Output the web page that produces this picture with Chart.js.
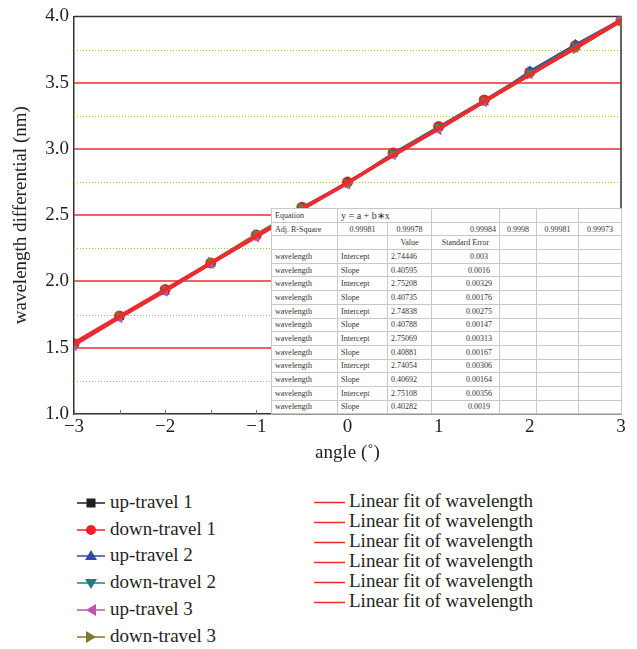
<!DOCTYPE html>
<html>
<head>
<meta charset="utf-8">
<script src="https://cdn.jsdelivr.net/npm/chart.js@4"></script>
<style>
    body { margin: 0; background: #fff; font-family: 'Liberation Serif', serif; color: #231f20; }
    #wrap { position: relative; width: 637px; height: 649px; }
    #chart { position: absolute; left: 0; top: 0; }
    #fit-table {
        position: absolute; left: 271px; top: 208px; width: 350px; height: 206px;
        border-collapse: collapse; background: #fff; font-size: 8px; color: #333;
        table-layout: fixed; border: 1.5px solid #333;
    }
    #fit-table td { border: 1px solid #c8c8c8; padding: 0 3px; height: 12.7px; line-height: 11px; white-space: nowrap; overflow: hidden; }
    #fit-table td.c { text-align: center; }
    #fit-table td.r { text-align: right; }
    .legend { position: absolute; font-size: 19px; line-height: 20px; font-family: 'Liberation Serif', serif; }
    .legend .item { position: absolute; white-space: nowrap; }
    .legend svg { position: absolute; top: 0; }
    .legend span { position: absolute; top: -1px; }
</style>
</head>
<body>
<div id="wrap">
    <canvas id="chart" width="637" height="470"></canvas>
    <table id="fit-table"></table>
    <div class="legend" id="legend-left" style="left:0; top:0;"></div>
    <div class="legend" id="legend-right" style="left:0; top:0;"></div>
</div>
<script>
// angle (deg)
const angles = [-3, -2.5, -2, -1.5, -1, -0.5, 0, 0.5, 1, 1.5, 2, 2.5, 3];

const seriesNames = ['up-travel 1', 'down-travel 1', 'up-travel 2', 'down-travel 2', 'up-travel 3', 'down-travel 3'];
const upTravel1   = [1.52, 1.73, 1.93, 2.13, 2.34, 2.54, 2.74, 2.96, 3.16, 3.36, 3.57, 3.77, 3.97];
const downTravel1 = [1.53, 1.74, 1.94, 2.14, 2.35, 2.56, 2.75, 2.97, 3.17, 3.37, 3.58, 3.78, 3.97];
const upTravel2   = [1.53, 1.73, 1.92, 2.13, 2.35, 2.56, 2.75, 2.96, 3.16, 3.35, 3.59, 3.79, 3.98];
const downTravel2 = [1.52, 1.74, 1.93, 2.14, 2.35, 2.55, 2.74, 2.97, 3.17, 3.37, 3.58, 3.78, 3.98];
const upTravel3   = [1.51, 1.72, 1.92, 2.13, 2.33, 2.54, 2.73, 2.95, 3.14, 3.35, 3.56, 3.76, 3.98];
const downTravel3 = [1.53, 1.74, 1.94, 2.15, 2.36, 2.56, 2.74, 2.96, 3.16, 3.36, 3.56, 3.75, 3.96];
const seriesValues = [upTravel1, downTravel1, upTravel2, downTravel2, upTravel3, downTravel3];

// linear fit results (table)
const adjRSquare = ['0.99981', '0.99978', '0.99984', '0.9998', '0.99981', '0.99973'];
const fitIntercepts = [2.74446, 2.75208, 2.74838, 2.75069, 2.74054, 2.75108];
const fitInterceptErr = ['0.003', '0.00329', '0.00275', '0.00313', '0.00306', '0.00356'];
const fitSlopes = [0.40595, 0.40735, 0.40788, 0.40881, 0.40692, 0.40282];
const fitSlopeErr = ['0.0016', '0.00176', '0.00147', '0.00167', '0.00164', '0.0019'];
const fitLabel = 'Linear fit of wavelength';

const yTicks = [1.0, 1.5, 2.0, 2.5, 3.0, 3.5, 4.0];
const yMinorGrid = [1.25, 1.75, 2.25, 2.75, 3.25, 3.75];
const xTicks = [-3, -2, -1, 0, 1, 2, 3];
const xMinorTicks = [-2.5, -1.5, -0.5, 0.5, 1.5, 2.5];

const colors = ['#231f20', '#ec2227', '#2f4c9e', '#1c7f7b', '#c055b1', '#7d7b2b'];
const pointStyles = ['rect', 'circle', 'triangle', 'triangle', 'triangle', 'triangle'];
const pointRotations = [0, 0, 0, 180, 270, 90];
const fitColor = '#ef2b2d';
const FONT = "'Liberation Serif', serif";

const datasets = [];
seriesValues.forEach((vals, i) => {
    datasets.push({
        label: seriesNames[i],
        data: angles.map((a, j) => ({ x: a, y: vals[j] })),
        showLine: true,
        borderColor: colors[i],
        backgroundColor: colors[i],
        borderWidth: 1.5,
        pointStyle: pointStyles[i],
        rotation: pointRotations[i],
        pointRadius: pointStyles[i] === 'rect' ? 4.5 : 5.5,
        pointBorderWidth: 0,
        order: 7 - i
    });
});
fitIntercepts.forEach((a, i) => {
    const b = fitSlopes[i];
    datasets.push({
        label: fitLabel,
        data: [{ x: angles[0], y: a + b * angles[0] }, { x: angles[angles.length - 1], y: a + b * angles[angles.length - 1] }],
        showLine: true,
        borderColor: fitColor,
        borderWidth: 2,
        pointRadius: 0,
        order: 0
    });
});

const framePlugin = {
    id: 'frame',
    beforeDatasetsDraw(chart) {
        const { ctx, chartArea: ca, scales } = chart;
        ctx.save();
        // minor dotted grid
        ctx.strokeStyle = '#8cc63f';
        ctx.lineWidth = 1;
        ctx.setLineDash([1, 2]);
        yMinorGrid.forEach(v => {
            const y = Math.round(scales.y.getPixelForValue(v)) + 0.5;
            ctx.beginPath();
            ctx.moveTo(ca.left, y);
            ctx.lineTo(ca.right, y);
            ctx.stroke();
        });
        ctx.setLineDash([]);
        // major red grid
        ctx.strokeStyle = fitColor;
        ctx.lineWidth = 1.5;
        yTicks.slice(1, -1).forEach(v => {
            const y = Math.round(scales.y.getPixelForValue(v));
            ctx.beginPath();
            ctx.moveTo(ca.left, y);
            ctx.lineTo(ca.right, y);
            ctx.stroke();
        });
        // minor x ticks
        ctx.strokeStyle = '#777';
        ctx.lineWidth = 1;
        xMinorTicks.concat(xTicks).forEach(v => {
            const x = Math.round(scales.x.getPixelForValue(v)) + 0.5;
            ctx.beginPath();
            ctx.moveTo(x, ca.bottom);
            ctx.lineTo(x, ca.bottom - 4);
            ctx.stroke();
        });
        // frame top and right
        ctx.strokeStyle = '#333';
        ctx.lineWidth = 1.5;
        ctx.beginPath();
        ctx.moveTo(ca.left, ca.top);
        ctx.lineTo(ca.right, ca.top);
        ctx.lineTo(ca.right, ca.bottom);
        ctx.stroke();
        ctx.restore();
    }
};

new Chart(document.getElementById('chart'), {
    type: 'scatter',
    data: { datasets: datasets },
    options: {
        responsive: false,
        animation: false,
        layout: { padding: { top: 13, right: 16, left: 0, bottom: 0 } },
        plugins: { legend: { display: false }, tooltip: { enabled: false } },
        scales: {
            x: {
                type: 'linear',
                min: -3,
                max: 3,
                afterFit: s => { s.height = 56; },
                afterBuildTicks: s => { s.ticks = xTicks.map(v => ({ value: v })); },
                ticks: {
                    color: '#231f20',
                    font: { family: FONT, size: 19 },
                    padding: 2,
                    maxRotation: 0,
                    callback: v => (v < 0 ? '\u2212' + Math.abs(v) : String(v))
                },
                grid: { display: false, drawTicks: false },
                border: { display: true, color: '#333', width: 1.5 },
                title: { display: true, text: 'angle (˚)', color: '#231f20', font: { family: FONT, size: 19 }, padding: { top: 0, bottom: 6 } }
            },
            y: {
                min: 1,
                max: 4,
                afterFit: s => { s.width = 74; },
                afterBuildTicks: s => { s.ticks = yTicks.map(v => ({ value: v })); },
                ticks: {
                    color: '#231f20',
                    font: { family: FONT, size: 19 },
                    padding: 5,
                    callback: v => Number(v).toFixed(1)
                },
                grid: { display: false, drawTicks: false },
                border: { display: true, color: '#333', width: 1.5 },
                title: { display: true, text: 'wavelength differential (nm)', color: '#231f20', font: { family: FONT, size: 19 }, padding: { top: 10, bottom: 0 } }
            }
        }
    },
    plugins: [framePlugin]
});

// fit table
(function buildTable() {
    const t = document.getElementById('fit-table');
    const widths = [66, 50, 44, 68, 37, 42, 43];
    let html = '<colgroup>' + widths.map(w => '<col style="width:' + w + 'px">').join('') + '</colgroup>';
    html += '<tr><td>Equation</td><td colspan="2" style="font-size:10px">y = a + b\u2217x</td><td></td><td></td><td></td><td></td></tr>';
    html += '<tr><td>Adj. R-Square</td>' + adjRSquare.map((v, i) => '<td class="' + (i === 2 ? 'r' : 'c') + '">' + v + '</td>').join('') + '</tr>';
    html += '<tr><td></td><td></td><td class="c">Value</td><td class="c">Standard Error</td><td></td><td></td><td></td></tr>';
    fitIntercepts.forEach((a, i) => {
        html += '<tr><td>wavelength</td><td>Intercept</td><td>' + a.toFixed(5) + '</td><td class="c" style="padding-left:30px">' + fitInterceptErr[i] + '</td><td></td><td></td><td></td></tr>';
        html += '<tr><td>wavelength</td><td>Slope</td><td>' + fitSlopes[i].toFixed(5) + '</td><td class="c" style="padding-left:30px">' + fitSlopeErr[i] + '</td><td></td><td></td><td></td></tr>';
    });
    t.innerHTML = html;
})();

// legends
(function buildLegend() {
    const left = document.getElementById('legend-left');
    const shapes = [
        '<rect x="9.5" y="5.5" width="9" height="9"/>',
        '<circle cx="14" cy="10" r="5"/>',
        '<polygon points="14,4 20,14 8,14"/>',
        '<polygon points="8,6 20,6 14,16"/>',
        '<polygon points="9,10 19,4 19,16"/>',
        '<polygon points="19,10 9,4 9,16"/>'
    ];
    let h = '';
    seriesNames.forEach((name, i) => {
        const top = 493 + i * 26.7;
        h += '<div class="item" style="left:77px; top:' + top + 'px">' +
            '<svg width="28" height="20" style="left:0"><line x1="0" y1="10" x2="28" y2="10" stroke="' + colors[i] + '" stroke-width="1.5"/>' +
            '<g fill="' + colors[i] + '">' + shapes[i] + '</g></svg>' +
            '<span style="left:33px">' + name + '</span></div>';
    });
    left.innerHTML = h;
    const right = document.getElementById('legend-right');
    h = '';
    fitIntercepts.forEach((a, i) => {
        const top = 492 + i * 20;
        h += '<div class="item" style="left:314px; top:' + top + 'px">' +
            '<svg width="31" height="20" style="left:0"><line x1="0" y1="10.5" x2="31" y2="10.5" stroke="' + fitColor + '" stroke-width="1.5"/></svg>' +
            '<span style="left:35px">' + fitLabel + '</span></div>';
    });
    right.innerHTML = h;
})();
</script>
</body>
</html>
